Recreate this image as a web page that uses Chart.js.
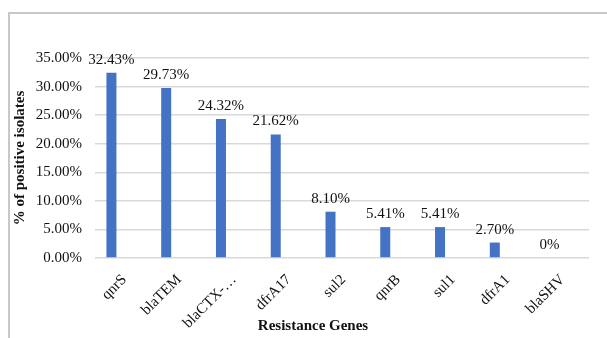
<!DOCTYPE html>
<html>
<head>
<meta charset="utf-8">
<script src="https://cdn.jsdelivr.net/npm/chart.js@4.4.0/dist/chart.umd.min.js"></script>
<style>
  html, body { margin: 0; padding: 0; background: #fff; }
  body { width: 607px; height: 338px; overflow: hidden; position: relative; }
  #chart { position: absolute; left: 0; top: 0; }
  /* the light frame round the chart, cut off right and bottom like the picture */
  .frame { position: absolute; left: 8px; top: 12px; width: 700px; height: 400px;
           border: 2px solid #c8c8c8; pointer-events: none; }
</style>
</head>
<body>
<canvas id="chart" width="640" height="338"></canvas>
<div class="frame"></div>
<script>
// data
const genes = ['qnrS', 'blaTEM', 'blaCTX-…', 'dfrA17', 'sul2', 'qnrB', 'sul1', 'dfrA1', 'blaSHV']
const positives = [32.43, 29.73, 24.32, 21.62, 8.10, 5.41, 5.41, 2.70, 0]
const valueLabels = ['32.43%', '29.73%', '24.32%', '21.62%', '8.10%', '5.41%', '5.41%', '2.70%', '0%']
const yMin = 0, yMax = 35, yStep = 5

const serif = '"Liberation Serif", "Times New Roman", serif'

// writes the percentage above each bar
const barLabels = {
  id: 'barLabels',
  afterDatasetsDraw(chart) {
    const ctx = chart.ctx
    const meta = chart.getDatasetMeta(0)
    ctx.save()
    ctx.font = '15px ' + serif
    ctx.fillStyle = '#111'
    ctx.textAlign = 'center'
    ctx.textBaseline = 'alphabetic'
    meta.data.forEach(function (bar, i) {
      ctx.fillText(valueLabels[i], bar.x, bar.y - 9)
    })
    ctx.restore()
  }
}

new Chart(document.getElementById('chart'), {
  type: 'bar',
  data: {
    datasets: [{
      label: '% of positive isolates',
      data: positives.map((v, i) => ({ x: i, y: v })),
      backgroundColor: '#4472C4',
      barThickness: 10,
      inflateAmount: 0
    }]
  },
  options: {
    responsive: false,
    animation: false,
    layout: { padding: { left: 11, right: 25, top: 58, bottom: 0 } },
    plugins: {
      legend: { display: false },
      tooltip: { enabled: false },
      title: {
        display: true,
        position: 'bottom',
        text: 'Resistance Genes',
        color: '#111',
        font: { family: serif, size: 15, weight: 'bold', lineHeight: 1.2 },
        // negative top padding keeps the box thin so the gene names are not cut
        padding: { top: -15, bottom: 3 }
      }
    },
    scales: {
      x: {
        type: 'linear',
        offset: false,
        min: -0.3,
        max: 8.72,
        grid: { display: false },
        border: { display: false },
        ticks: {
          stepSize: 1,
          includeBounds: false,
          autoSkip: false,
          minRotation: 45,
          maxRotation: 45,
          padding: 5,
          labelOffset: 13,
          color: '#111',
          font: { family: serif, size: 15 },
          callback: v => (Number.isInteger(v) && genes[v] !== undefined) ? genes[v] : ''
        },
        afterFit: s => { s.height = 74 }
      },
      y: {
        min: yMin,
        max: yMax,
        grid: { color: '#d9d9d9', lineWidth: 1.5, drawTicks: false },
        border: { display: false },
        ticks: {
          stepSize: yStep,
          padding: 13,
          color: '#111',
          font: { family: serif, size: 15 },
          callback: v => v.toFixed(2) + '%'
        },
        title: {
          display: true,
          text: '% of positive isolates',
          color: '#111',
          font: { family: serif, size: 15, weight: 'bold' },
          padding: { top: 0, bottom: 0 }
        },
        afterFit: s => { s.width = 84 }
      },
      // empty axis on the right, only to hold the plot away from the edge
      yRight: {
        position: 'right',
        grid: { display: false },
        border: { display: false },
        ticks: { display: false },
        afterFit: s => { s.width = 26 }
      }
    }
  },
  plugins: [barLabels]
})
</script>
</body>
</html>
